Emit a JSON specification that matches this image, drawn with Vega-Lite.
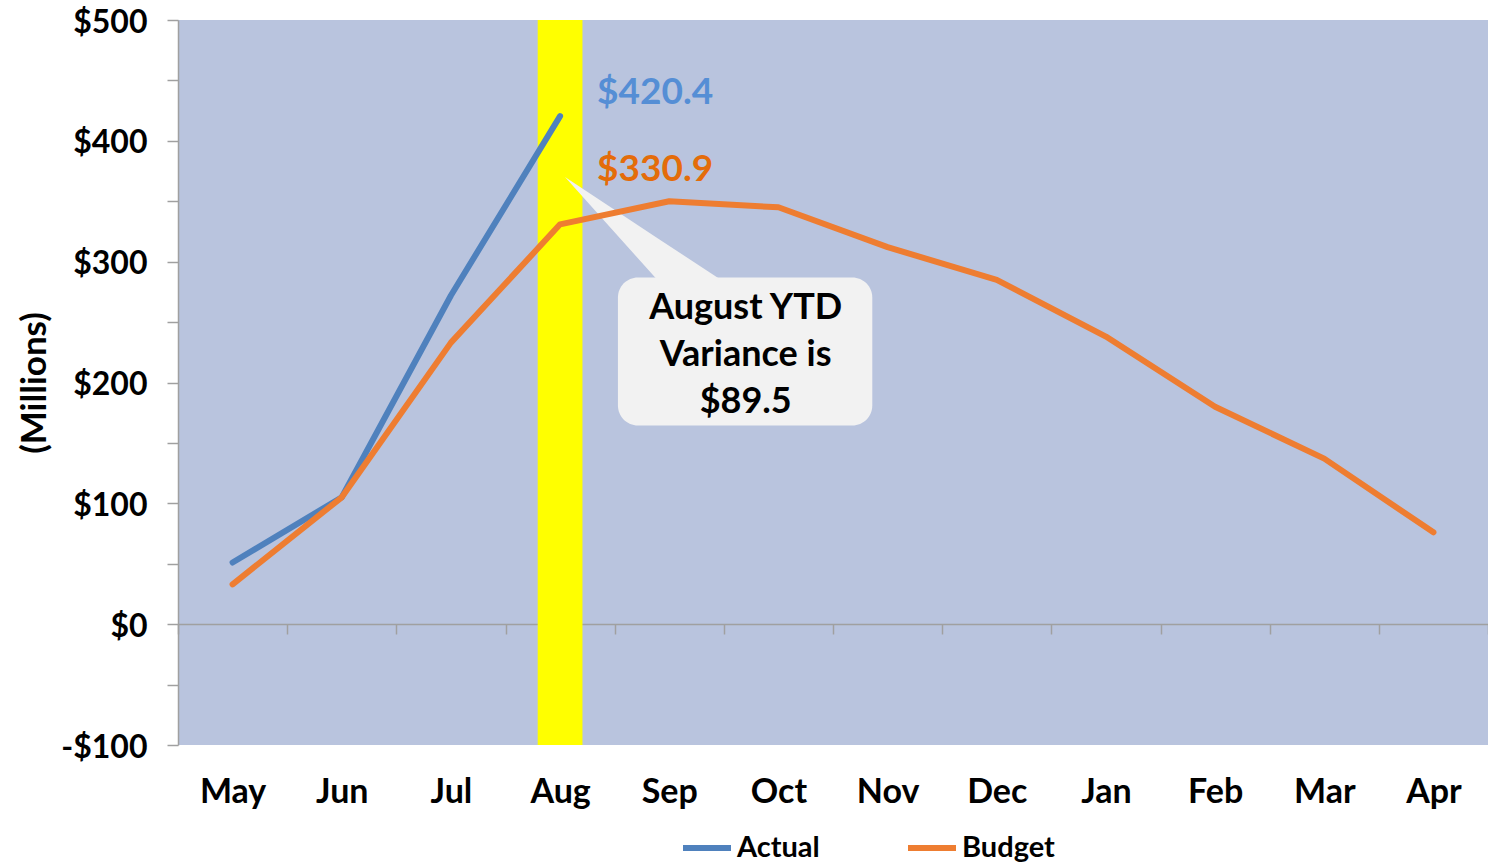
{
  "$schema": "https://vega.github.io/schema/vega-lite/v6.json",
  "width": 1310,
  "height": 725,
  "autosize": {"type": "none"},
  "padding": {"left": 178, "top": 20, "right": 0, "bottom": 120},
  "background": "white",
  "config": {
    "view": {"fill": "#B9C4DE", "stroke": null},
    "font": "Lato",
    "axis": {"grid": false}
  },
  "datasets": {
    "main": [
      {"month": "May", "series": "Actual", "value": 51},
      {"month": "Jun", "series": "Actual", "value": 105},
      {"month": "Jul", "series": "Actual", "value": 272},
      {"month": "Aug", "series": "Actual", "value": 420.4},
      {"month": "May", "series": "Budget", "value": 33},
      {"month": "Jun", "series": "Budget", "value": 105},
      {"month": "Jul", "series": "Budget", "value": 233},
      {"month": "Aug", "series": "Budget", "value": 330.9},
      {"month": "Sep", "series": "Budget", "value": 350},
      {"month": "Oct", "series": "Budget", "value": 345},
      {"month": "Nov", "series": "Budget", "value": 312},
      {"month": "Dec", "series": "Budget", "value": 285},
      {"month": "Jan", "series": "Budget", "value": 238},
      {"month": "Feb", "series": "Budget", "value": 180},
      {"month": "Mar", "series": "Budget", "value": 137},
      {"month": "Apr", "series": "Budget", "value": 76}
    ],
    "pointer": [
      {"px": 3.545, "top": 370, "bottom": 370},
      {"px": 4.40, "top": 319, "bottom": 284},
      {"px": 4.99, "top": 284, "bottom": 284}
    ]
  },
  "resolve": {"scale": {"x": "independent"}, "axis": {"x": "independent"}},
  "layer": [
    {
      "data": {"values": [{"month": "Aug"}]},
      "mark": {"type": "bar", "color": "#FFFF00", "width": {"band": 0.41}},
      "encoding": {
        "x": {"field": "month", "type": "nominal", "axis": null,
              "scale": {"domain": ["May","Jun","Jul","Aug","Sep","Oct","Nov","Dec","Jan","Feb","Mar","Apr"], "paddingInner": 0, "paddingOuter": 0}},
        "y": {"datum": 500, "type": "quantitative", "scale": {"domain": [-100, 500], "nice": false}},
        "y2": {"datum": -100}
      }
    },
    {
      "layer": [
        {
          "data": {"name": "pointer"},
          "mark": {"type": "area", "color": "#F2F2F2", "opacity": 1},
          "encoding": {
            "x": {"field": "px", "type": "quantitative", "axis": null, "scale": {"domain": [0, 12], "nice": false, "zero": false}},
            "y": {"field": "top", "type": "quantitative"},
            "y2": {"field": "bottom"}
          }
        },
        {
          "data": {"values": [{}]},
          "mark": {"type": "rect", "color": "#F2F2F2", "cornerRadius": 20},
          "encoding": {
            "x": {"datum": 4.03, "type": "quantitative", "axis": null},
            "x2": {"datum": 6.36},
            "y": {"datum": 287, "type": "quantitative"},
            "y2": {"datum": 164.5}
          }
        },
        {
          "data": {"values": [{}]},
          "mark": {"type": "text", "font": "Lato", "fontWeight": "bold", "fontSize": 36, "color": "#000000", "align": "center", "baseline": "middle", "lineHeight": 47,
                   "text": ["August YTD", "Variance is", "$89.5"]},
          "encoding": {
            "x": {"datum": 5.2, "type": "quantitative", "axis": null},
            "y": {"datum": 262, "type": "quantitative"}
          }
        }
      ]
    },
    {
      "layer": [
        {
          "data": {"name": "main"},
          "mark": {"type": "line", "strokeWidth": 6, "strokeCap": "round", "strokeJoin": "round"},
          "encoding": {
            "x": {"field": "month", "type": "nominal",
                  "scale": {"domain": ["May","Jun","Jul","Aug","Sep","Oct","Nov","Dec","Jan","Feb","Mar","Apr"], "paddingInner": 0, "paddingOuter": 0},
                  "axis": {"title": null, "orient": "bottom", "offset": -121, "labelAngle": 0,
                           "labelFont": "Lato", "labelFontSize": 34, "labelFontWeight": "bold", "labelColor": "#000000",
                           "labelPadding": 141, "domainColor": "#A0A0A0", "domainWidth": 1.5,
                           "tickColor": "#A0A0A0", "tickSize": 10, "tickWidth": 1.5, "tickBand": "extent"}},
            "y": {"field": "value", "type": "quantitative",
                  "scale": {"domain": [-100, 500], "nice": false},
                  "axis": {"title": "(Millions)", "titleFont": "Lato", "titleFontSize": 35, "titleFontWeight": "bold", "titleColor": "#000000", "titlePadding": 8,
                           "values": [-100,-75,-50,-25,0,25,50,75,100,125,150,175,200,225,250,275,300,325,350,375,400,425,450,475,500],
                           "labelExpr": "datum.value % 100 == 0 ? (datum.value < 0 ? '-$' + abs(datum.value) : '$' + datum.value) : ''",
                           "labelFont": "Lato", "labelFontSize": 32, "labelFontWeight": "bold", "labelColor": "#000000", "labelPadding": 20, "labelOffset": 2,
                           "domainColor": "#A0A0A0", "domainWidth": 1.5, "tickColor": "#A0A0A0", "tickSize": 11, "tickWidth": 1.5}},
            "color": {"field": "series", "type": "nominal",
                      "scale": {"domain": ["Actual", "Budget"], "range": ["#4F81BD", "#EE7D31"]},
                      "legend": {"title": null, "orient": "none", "direction": "horizontal", "legendX": 502, "legendY": 801,
                                 "symbolType": "stroke", "symbolSize": 2304, "symbolStrokeWidth": 6,
                                 "labelFont": "Lato", "labelFontSize": 29, "labelFontWeight": "bold", "labelColor": "#000000",
                                 "labelOffset": 3, "columnPadding": 76}}
          }
        },
        {
          "data": {"values": [{"month": "Aug", "value": 420.4, "label": "$420.4"}]},
          "mark": {"type": "text", "font": "Lato", "fontWeight": "bold", "fontSize": 37, "color": "#558ED5", "align": "left", "baseline": "middle", "dx": 37, "dy": -23},
          "encoding": {
            "x": {"field": "month", "type": "nominal"},
            "y": {"field": "value", "type": "quantitative"},
            "text": {"field": "label"}
          }
        },
        {
          "data": {"values": [{"month": "Aug", "value": 330.9, "label": "$330.9"}]},
          "mark": {"type": "text", "font": "Lato", "fontWeight": "bold", "fontSize": 37, "color": "#E46C0A", "align": "left", "baseline": "middle", "dx": 37, "dy": -54},
          "encoding": {
            "x": {"field": "month", "type": "nominal"},
            "y": {"field": "value", "type": "quantitative"},
            "text": {"field": "label"}
          }
        }
      ]
    }
  ]
}
